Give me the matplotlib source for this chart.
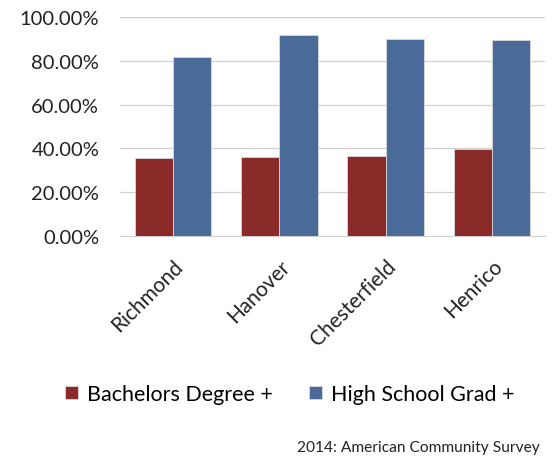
import numpy as np
import matplotlib.pyplot as plt
from matplotlib.ticker import FuncFormatter

plt.rcParams['font.family'] = ['Lato', 'DejaVu Sans']

counties = ['Richmond', 'Hanover', 'Chesterfield', 'Henrico']
bachelors = [35.4, 36.0, 36.6, 39.7]
high_school = [81.8, 91.9, 90.0, 89.4]
yticks = [0, 20, 40, 60, 80, 100]

red = '#8a2b2a'
blue = '#4a6a99'

fig = plt.figure(figsize=(5.54, 4.60), dpi=100)
ax = fig.add_axes([120/554, 1 - 237/460, 425/554, 219/460])

x = np.arange(len(counties))
w = 0.36
ax.bar(x - w/2, bachelors, w, color=red, edgecolor='#d9d9d9', linewidth=0.6,
       label='Bachelors Degree +', zorder=3)
ax.bar(x + w/2, high_school, w, color=blue, edgecolor='#d9d9d9', linewidth=0.6,
       label='High School Grad +', zorder=3)

ax.set_xlim(-0.5, len(counties) - 0.5)
ax.set_ylim(0, 100)
ax.set_yticks(yticks)
ax.yaxis.set_major_formatter(FuncFormatter(lambda v, p: f'{v:.2f}%'))
ax.grid(axis='y', color='#d0d0d0', linewidth=0.9, zorder=0)
for s in ['top', 'right', 'left']:
    ax.spines[s].set_visible(False)
ax.spines['bottom'].set_color('#d0d0d0')
ax.tick_params(axis='y', length=0, labelsize=14.5, colors='#222222', pad=15)
ax.tick_params(axis='x', length=0, labelsize=15, colors='#222222', pad=14)
ax.set_xticks(x)
ax.set_xticklabels(counties, rotation=45, ha='right', rotation_mode='anchor')

ax.legend(loc='center', bbox_to_anchor=(0.523, 1 - 395/460),
          bbox_transform=fig.transFigure, ncol=2, frameon=False,
          fontsize=15.5, handlelength=0.6, handleheight=0.6, columnspacing=1.7,
          handletextpad=0.4)

fig.text(540/554, 1 - 448/460, '2014: American Community Survey', ha='right',
         va='center', fontsize=11.2, color='#222222')

fig.savefig('out.png', dpi=100)
